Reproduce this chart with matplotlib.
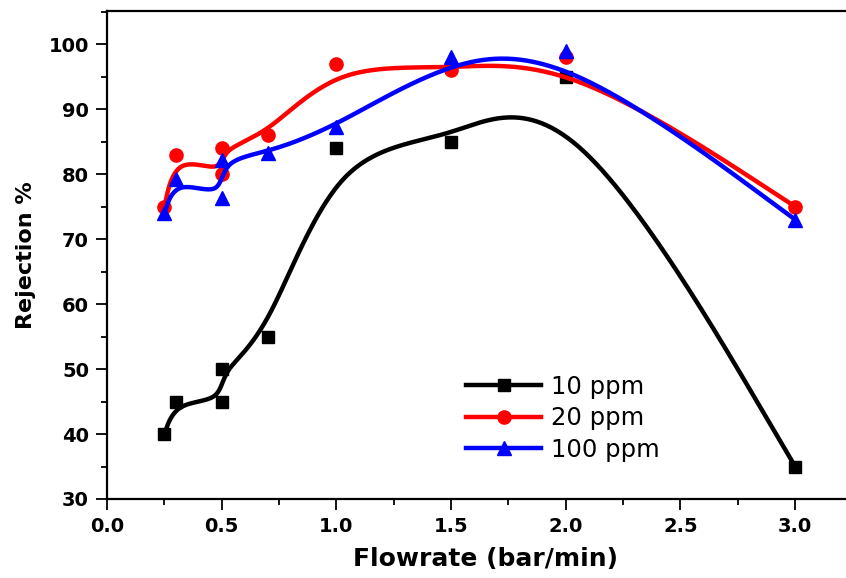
import numpy as np
import matplotlib
matplotlib.use("Agg")
import matplotlib.pyplot as plt
from matplotlib.ticker import MultipleLocator

# flowrate (bar/min); the duplicate 0.5 points are kept in the original order
flow = [0.25, 0.3, 0.5, 0.5, 0.7, 1.0, 1.5, 2.0, 3.0]
rej_10 = [40, 45, 45, 50, 55, 84, 85, 95, 35]
rej_20 = [75, 83, 80, 84, 86, 97, 96, 98, 75]
rej_100 = [74, 79.3, 76.3, 82.2, 83.3, 87.3, 98, 99, 73]
labels = ['10 ppm', '20 ppm', '100 ppm']


def bspline(x, y, n=60):
    # uniform cubic B-spline, ends repeated so the curve starts/stops on the data
    px = np.r_[x[0], x[0], x, x[-1], x[-1]]
    py = np.r_[y[0], y[0], y, y[-1], y[-1]]
    t = np.linspace(0, 1, n)
    b = [(1 - t) ** 3 / 6,
         (3 * t ** 3 - 6 * t ** 2 + 4) / 6,
         (-3 * t ** 3 + 3 * t ** 2 + 3 * t + 1) / 6,
         t ** 3 / 6]
    xs, ys = [], []
    for i in range(len(px) - 3):
        xs.append(sum(b[k] * px[i + k] for k in range(4)))
        ys.append(sum(b[k] * py[i + k] for k in range(4)))
    return np.concatenate(xs), np.concatenate(ys)


plt.rcParams['font.family'] = 'DejaVu Sans'

fig = plt.figure(figsize=(8.46, 5.78), dpi=100)
ax = fig.add_axes([107 / 846, 79 / 578, 757 / 846, 488 / 578])

series = [(rej_10, 'black', 's', 9), (rej_20, 'red', 'o', 9.5), (rej_100, 'blue', '^', 10.5)]
for (ys, c, m, ms), lab in zip(series, labels):
    sx, sy = bspline(np.array(flow, float), np.array(ys, float))
    ax.plot(flow, ys, linestyle='none', marker=m, color=c, markersize=ms)
    ax.plot(sx, sy, color=c, lw=3.2, solid_capstyle='round')
    # legend handle
    ax.plot([], [], color=c, lw=3.2, marker=m, markersize=ms, label=lab)

ax.set_xlim(0, 3.3)
ax.set_ylim(30, 105.1)
ax.xaxis.set_major_locator(MultipleLocator(0.5))
ax.xaxis.set_minor_locator(MultipleLocator(0.25))
ax.yaxis.set_major_locator(MultipleLocator(10))
ax.yaxis.set_minor_locator(MultipleLocator(5))
ax.tick_params(which='major', direction='out', length=8, width=1.3, pad=5,
               labelsize=14)
ax.tick_params(which='minor', direction='out', length=4.5, width=1.3)
for lbl in ax.get_xticklabels() + ax.get_yticklabels():
    lbl.set_fontweight('bold')
ax.xaxis.set_major_formatter(matplotlib.ticker.FormatStrFormatter('%.1f'))
for s in ['left', 'bottom', 'top']:
    ax.spines[s].set_linewidth(1.6)
ax.spines['right'].set_visible(False)

ax.set_xlabel('Flowrate (bar/min)', fontsize=18, fontweight='bold', labelpad=8)
ax.set_ylabel('Rejection %', fontsize=16, fontweight='bold', labelpad=9)

ax.legend(loc='upper left', bbox_to_anchor=(466 / 846, 1 - 375 / 578),
          bbox_transform=fig.transFigure, frameon=False, fontsize=17.5,
          handlelength=3.1, handletextpad=0.4, labelspacing=0.3,
          borderpad=0, borderaxespad=0)

fig.savefig('out.png', dpi=100)
